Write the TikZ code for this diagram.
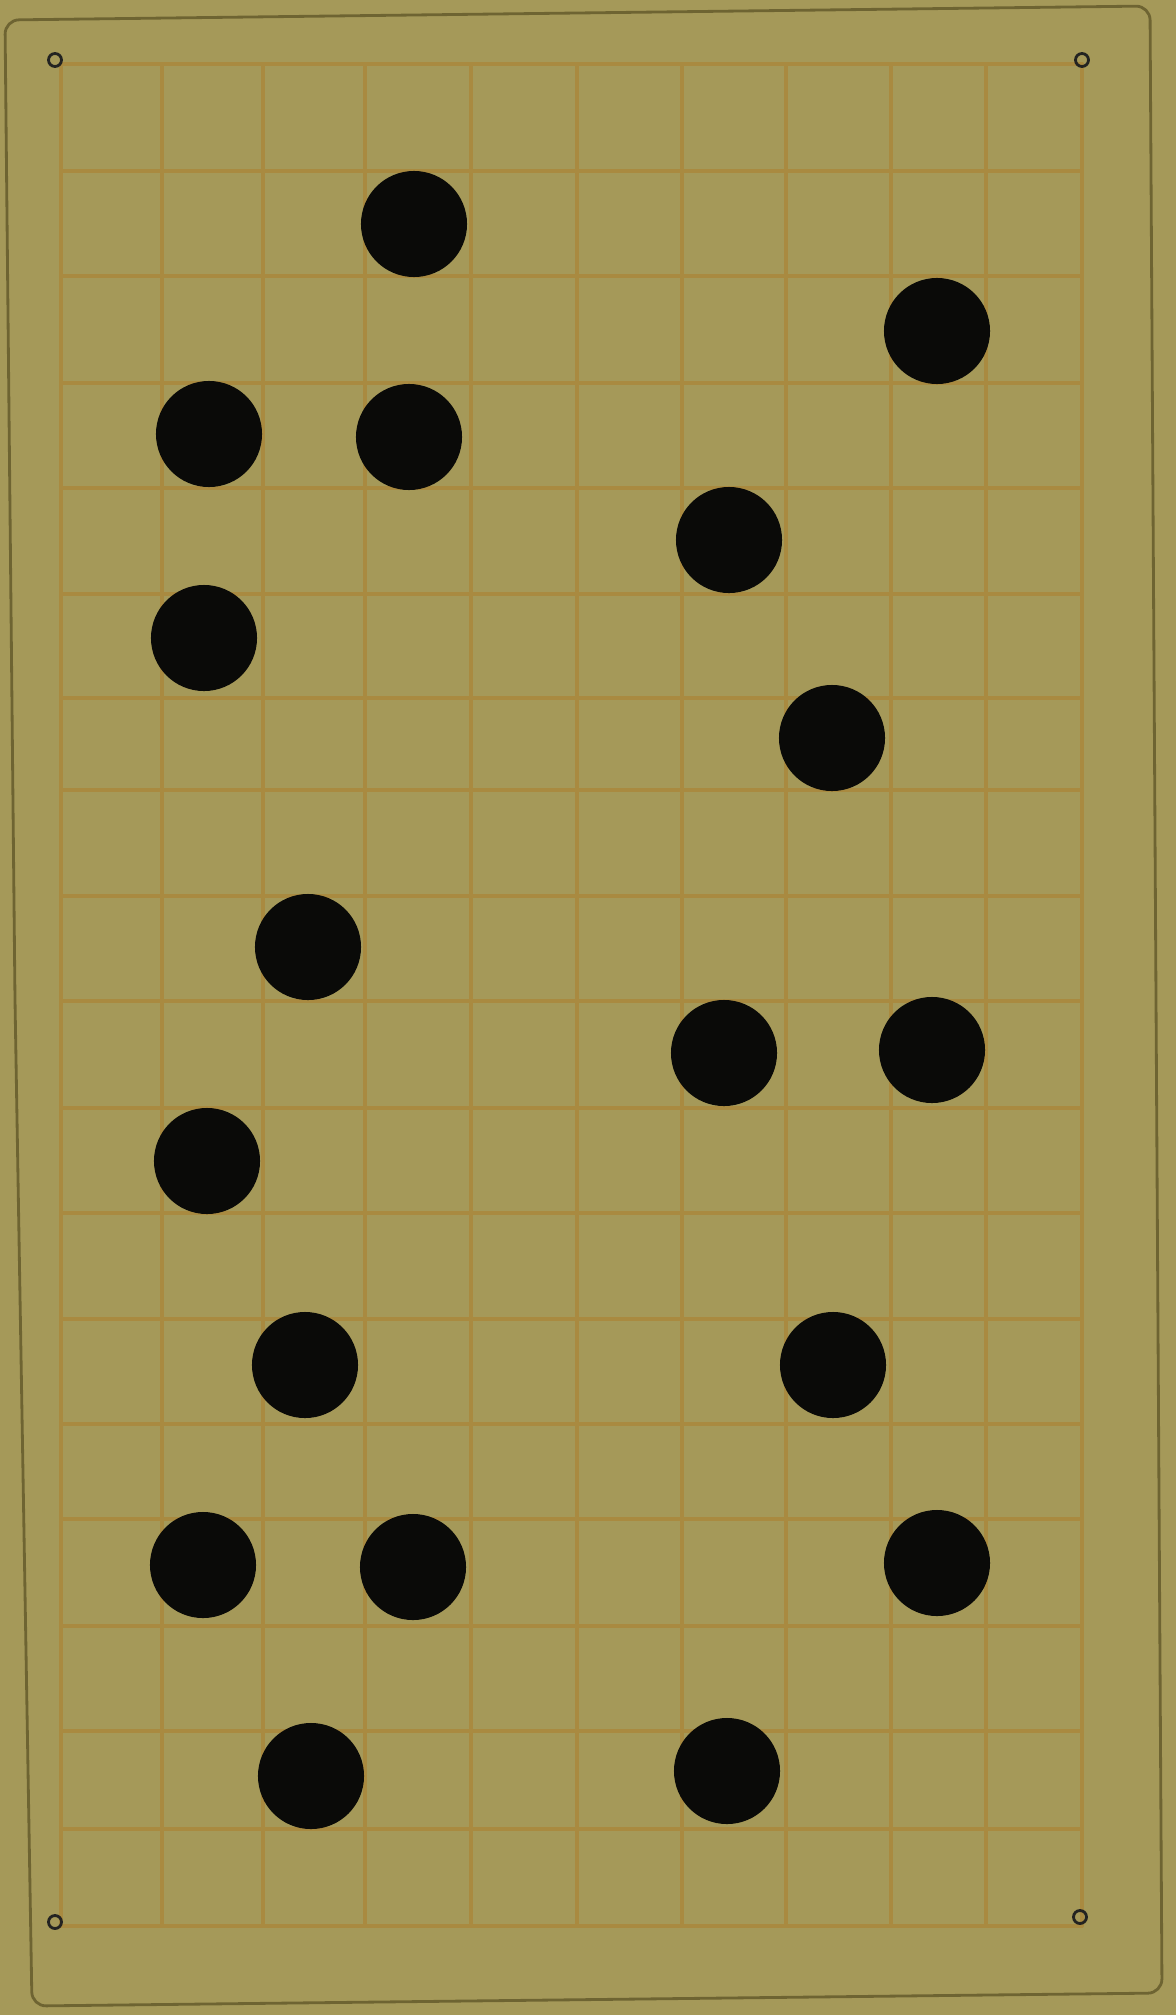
\documentclass[tikz,border=0pt]{standalone}
\usepackage{xcolor}
\usepackage{tikz}
\usetikzlibrary{positioning}
\definecolor{paper}{HTML}{A59959}
\definecolor{ochre}{HTML}{A98A40}
\definecolor{pencil}{HTML}{6E6432}
\definecolor{ink}{HTML}{0A0A08}
\tikzset{
  sheet/.style ={fill=paper},
  frame/.style ={draw=pencil, line width=.8pt, rounded corners=4pt},
  gline/.style ={draw=ochre, line width=1pt, line cap=round},
  dot/.style   ={circle, fill=ink, inner sep=0pt, minimum size=10.6mm},
  pin/.style   ={circle, draw=ink!90, line width=.8pt, inner sep=0pt, minimum size=1.3mm},
}
\begin{document}
\begin{tikzpicture}[x=0.01cm, y=-0.01cm]
  \useasboundingbox (0,0) rectangle (1176,2015);
  \fill[sheet] (0,0) rectangle (1176,2015);
  % hand drawn edge of the card
  \draw[frame] (5,20) -- (15,1000) -- (32,2006) -- (1162,1993) -- (1150,6) -- cycle;
  % squared paper, 10 x 18
  \foreach \gx in {61,162,263,365,471,577,682,786,891,986,1082}
    \draw[gline] (\gx,64) -- (\gx,1926);
  \foreach \gy in {64,171,276,383,488,594,698,790,896,1001,1108,1213,1319,1424,1519,1626,1731,1829,1926}
    \draw[gline] (61,\gy) -- (1082,\gy);
  % corner pins
  \node[pin] (pinTL) at (55,60) {};
  \node[pin] (pinTR) at (1082,60) {};
  \node[pin] (pinBL) at (55,1922) {};
  \node[pin] (pinBR) at (1080,1917) {};
  % black dots
  \node[dot] (d1)  at (414,224) {};
  \node[dot] (d2)  at (937,331) {};
  \node[dot] (d3)  at (209,434) {};
  \node[dot] (d4)  at (409,437) {};
  \node[dot] (d5)  at (729,540) {};
  \node[dot] (d6)  at (204,638) {};
  \node[dot] (d7)  at (832,738) {};
  \node[dot] (d8)  at (308,947) {};
  \node[dot] (d9)  at (724,1053) {};
  \node[dot] (d10) at (932,1050) {};
  \node[dot] (d11) at (207,1161) {};
  \node[dot] (d12) at (305,1365) {};
  \node[dot] (d13) at (833,1365) {};
  \node[dot] (d14) at (203,1565) {};
  \node[dot] (d15) at (413,1567) {};
  \node[dot] (d16) at (937,1563) {};
  \node[dot] (d17) at (311,1776) {};
  \node[dot] (d18) at (727,1771) {};
\end{tikzpicture}
\end{document}
